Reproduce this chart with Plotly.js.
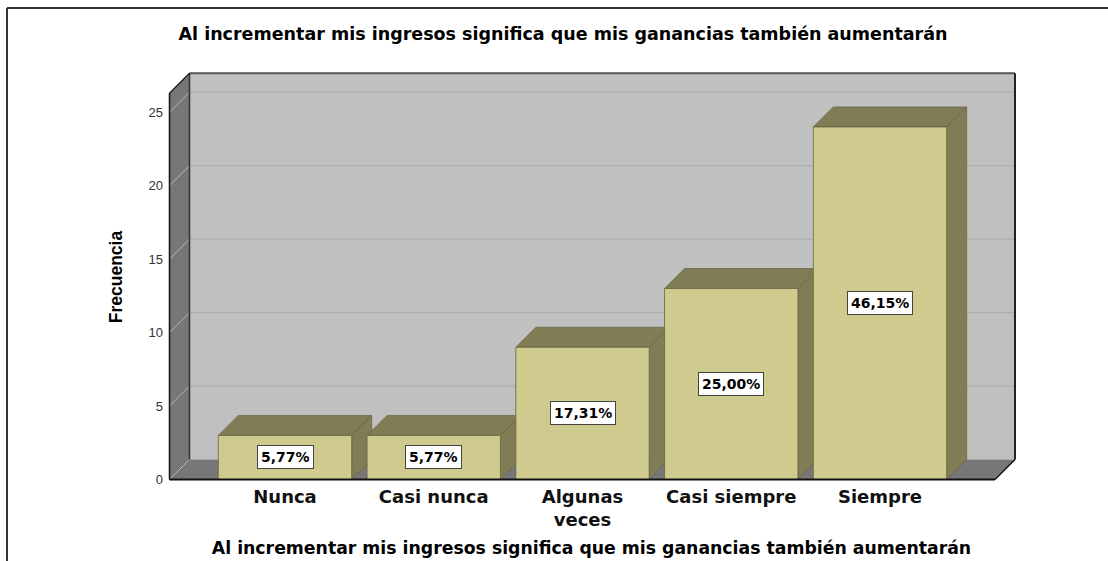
<!DOCTYPE html>
<html><head><meta charset="utf-8">
<script src="https://cdn.plot.ly/plotly-3.0.1.min.js"></script>
<style>html,body{margin:0;padding:0;background:#fff}</style>
</head><body><div id="chart" style="width:1108px;height:561px"></div>
<script>
const categories = ["Nunca", "Casi nunca", "Algunas veces", "Casi siempre", "Siempre"];
const tickLabels = ["Nunca", "Casi nunca", "Algunas<br>veces", "Casi siempre", "Siempre"];
const frecuencias = [3, 3, 9, 13, 24];
const yTicks = [0, 5, 10, 15, 20, 25];
const titleText = "Al incrementar mis ingresos significa que mis ganancias también aumentarán";
const xTitle = "Al incrementar mis ingresos significa que mis ganancias también aumentarán";
const yTitle = "Frecuencia";

const W = 1108, H = 561;
const M = {l: 164, r: 89, t: 70, b: 77};
const pxPerX = 148.75, x0px = 285, pxPerY = 14.69, y0px = 479.5;
const xRange = [(M.l - x0px) / pxPerX, (W - M.r - x0px) / pxPerX];
const yRange = [(y0px - (H - M.b)) / pxPerY, (y0px - M.t) / pxPerY];
const DX = 20 / pxPerX, DY = 20 / pxPerY;
const L = (169.5 - x0px) / pxPerX, R = (995 - x0px) / pxPerX, TOP = (y0px - 93.3) / pxPerY;
const hw = 133.4 / pxPerX / 2;
const xs = categories.map((c, i) => i);
const total = frecuencias.reduce((a, b) => a + b, 0);

const FRONT = '#cfca8e', DARK = '#807c55', EDGE = '#66633f';
const shapes = [];
function poly(pts, fill, line, layer) {
  return {type: 'path', xref: 'x', yref: 'y',
    path: 'M' + pts.map(p => p[0] + ',' + p[1]).join('L') + 'Z',
    fillcolor: fill, line: line || {width: 0}, layer: layer || 'below'};
}
function seg(x0, y0, x1, y1, color, width, layer) {
  return {type: 'line', xref: 'x', yref: 'y', x0, y0, x1, y1,
    line: {color, width}, layer: layer || 'below'};
}
// back wall
shapes.push(poly([[L + DX, DY], [R + DX, DY], [R + DX, TOP + DY], [L + DX, TOP + DY]], '#c0c0c0'));
yTicks.forEach(k => { if (k > 0) shapes.push(seg(L + DX, k + DY, R + DX, k + DY, '#aaaaaa', 1)); });
// left wall
shapes.push(poly([[L, 0], [L + DX, DY], [L + DX, TOP + DY], [L, TOP]], '#777777'));
// floor
shapes.push(poly([[L, 0], [R, 0], [R + DX, DY], [L + DX, DY]], '#777777'));
yTicks.forEach(k => shapes.push(seg(L, k, L + DX, k + DY, '#b4b4b4', 1)));
// wall edges
shapes.push(seg(L + DX, TOP + DY, R + DX, TOP + DY, '#555555', 2));
shapes.push(seg(R + DX, DY, R + DX, TOP + DY, '#222222', 2));
shapes.push(seg(L + DX, DY, L + DX, TOP + DY, '#333333', 1.5));
shapes.push(seg(L, TOP, L + DX, TOP + DY, '#222222', 1.5));
shapes.push(seg(L, 0, L, TOP, '#111111', 1.5));
shapes.push(seg(R, 0, R + DX, DY, '#111111', 1.5));
// bar 3D faces
xs.forEach((x, i) => {
  const v = frecuencias[i];
  shapes.push(poly([[x - hw, v], [x - hw + DX, v + DY], [x + hw + DX, v + DY], [x + hw, v]], DARK, {color: EDGE, width: 0.7}));
  shapes.push(poly([[x + hw, 0], [x + hw + DX, DY], [x + hw + DX, v + DY], [x + hw, v]], DARK, {color: EDGE, width: 0.7}));
});
// front bottom edge
shapes.push(seg(L, 0, R, 0, '#111111', 2, 'above'));
// outer frame
const pw = W - M.l - M.r, ph = H - M.t - M.b;
const px2paper = p => (p - M.l) / pw, py2paper = p => (H - M.b - p) / ph;
shapes.push({type: 'line', xref: 'paper', yref: 'paper', x0: px2paper(7), y0: py2paper(8), x1: px2paper(W + 5), y1: py2paper(8), line: {color: '#333', width: 2}});
shapes.push({type: 'line', xref: 'paper', yref: 'paper', x0: px2paper(7), y0: py2paper(8), x1: px2paper(7), y1: py2paper(H + 5), line: {color: '#333', width: 2}});

const annotations = xs.map((x, i) => ({
  x, y: frecuencias[i] / 2, xref: 'x', yref: 'y', showarrow: false,
  text: (frecuencias[i] / total * 100).toFixed(2).replace('.', ',') + '%',
  font: {family: 'DejaVu Sans', size: 14, weight: 'bold', color: '#000'},
  bgcolor: '#ffffff', bordercolor: '#444', borderwidth: 1, borderpad: 3
}));

const trace = {
  type: 'bar', x: xs, y: frecuencias, width: 2 * hw,
  marker: {color: FRONT, line: {color: EDGE, width: 0.8}},
  hoverinfo: 'skip', cliponaxis: true
};

const layout = {
  width: W, height: H, margin: M, paper_bgcolor: '#fff', plot_bgcolor: 'rgba(0,0,0,0)',
  showlegend: false,
  title: {text: titleText, font: {family: 'DejaVu Sans', size: 17.5, weight: 'bold', color: '#000'},
    x: 563 / W, xanchor: 'center', y: 1 - 33.7 / H, yanchor: 'middle', xref: 'container', yref: 'container'},
  xaxis: {range: xRange, tickvals: xs, ticktext: tickLabels, showgrid: false, zeroline: false, showline: false,
    ticks: '', tickfont: {family: 'DejaVu Sans', size: 18, weight: 'bold', color: '#111'}, fixedrange: true,
    automargin: false,
    title: {text: xTitle, font: {family: 'DejaVu Sans', size: 17.3, weight: 'bold', color: '#000'}, standoff: 12}},
  yaxis: {range: yRange, tickvals: yTicks, showgrid: false, zeroline: false, showline: false, ticks: '',
    tickfont: {family: 'Liberation Sans', size: 13, color: '#333'}, fixedrange: true, automargin: false,
    title: {text: yTitle, font: {family: 'Liberation Sans', size: 17.5, weight: 'bold', color: '#000'}, standoff: 21}},
  shapes, annotations
};
Plotly.newPlot('chart', [trace], layout, {displayModeBar: false, staticPlot: true});
</script></body></html>
